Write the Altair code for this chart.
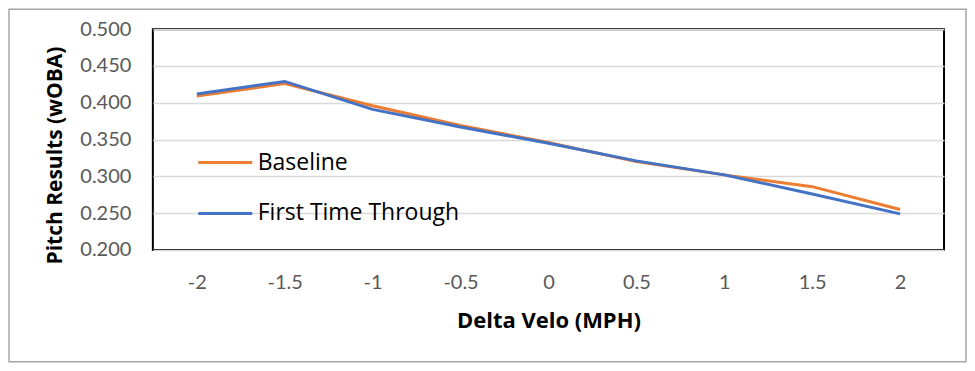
import altair as alt
import pandas as pd

velo = ["-2", "-1.5", "-1", "-0.5", "0", "0.5", "1", "1.5", "2"]
baseline = [0.409, 0.426, 0.396, 0.369, 0.346, 0.320, 0.302, 0.286, 0.255]
first_time = [0.412, 0.429, 0.391, 0.367, 0.345, 0.321, 0.302, 0.276, 0.249]
series = ["Baseline", "First Time Through"]
colors = ["#ED7D31", "#4472C4"]
y_ticks = [0.2, 0.25, 0.3, 0.35, 0.4, 0.45, 0.5]

rows = []
for name, vals in zip(series, [baseline, first_time]):
    for v, w in zip(velo, vals):
        rows.append({"velo": v, "woba": w, "series": name})
df = pd.DataFrame(rows)

FONT = "Lato"
TFONT = "Open Sans"

lines = alt.Chart(df).mark_line(strokeWidth=3).encode(
    x=alt.X("velo:O", sort=velo, scale=alt.Scale(type="point", padding=0.5),
            axis=alt.Axis(title="Delta Velo (MPH)", labelAngle=0, ticks=False, domain=False,
                          labelPadding=23, titlePadding=18, labelFontSize=20, titleFontSize=22,
                          labelColor="#595959", titleColor="#000000", labelFont=FONT,
                          titleFont=TFONT, titleFontWeight="bold", grid=False)),
    y=alt.Y("woba:Q", scale=alt.Scale(domain=[0.2, 0.5], nice=False, zero=False),
            axis=alt.Axis(title="Pitch Results (wOBA)", values=y_ticks, format=".3f",
                          ticks=False, domain=False, labelPadding=22, labelFontSize=20,
                          titleFontSize=21, labelColor="#595959", titleColor="#000000",
                          labelFont=FONT, titleFont=TFONT, titleFontWeight="bold",
                          gridColor="#d9d9d9", gridWidth=1.5,
                          titleX=-91, titleY=126, titleAngle=-90, titleBaseline="alphabetic",
                          titleAlign="center")),
    color=alt.Color("series:N", sort=series,
                    scale=alt.Scale(domain=series, range=colors),
                    legend=alt.Legend(title=None, orient="none", legendX=44, legendY=105,
                                      symbolType="stroke", symbolSize=2916,
                                      symbolStrokeWidth=3, labelFontSize=23, labelFont=TFONT,
                                      labelColor="#000000", rowPadding=10, labelOffset=4,
                                      labelLimit=0, padding=0)),
    order=alt.Order("series:N"),
)

frame = alt.Chart(pd.DataFrame({"a": [0]})).mark_rect(
    filled=False, stroke="#a6a6a6", strokeWidth=1.5
).encode(x=alt.value(-144), x2=alt.value(814), y=alt.value(-20), y2=alt.value(333))

chart = alt.layer(frame, lines).properties(
    width=792, height=221,
    background="white",
    autosize=alt.AutoSizeParams(type="none"),
    padding={"left": 145, "top": 21, "right": 23, "bottom": 113},
).configure_view(stroke="#000000", strokeWidth=2)

chart.save("out.html", embed_options={"renderer": "svg", "actions": False})
